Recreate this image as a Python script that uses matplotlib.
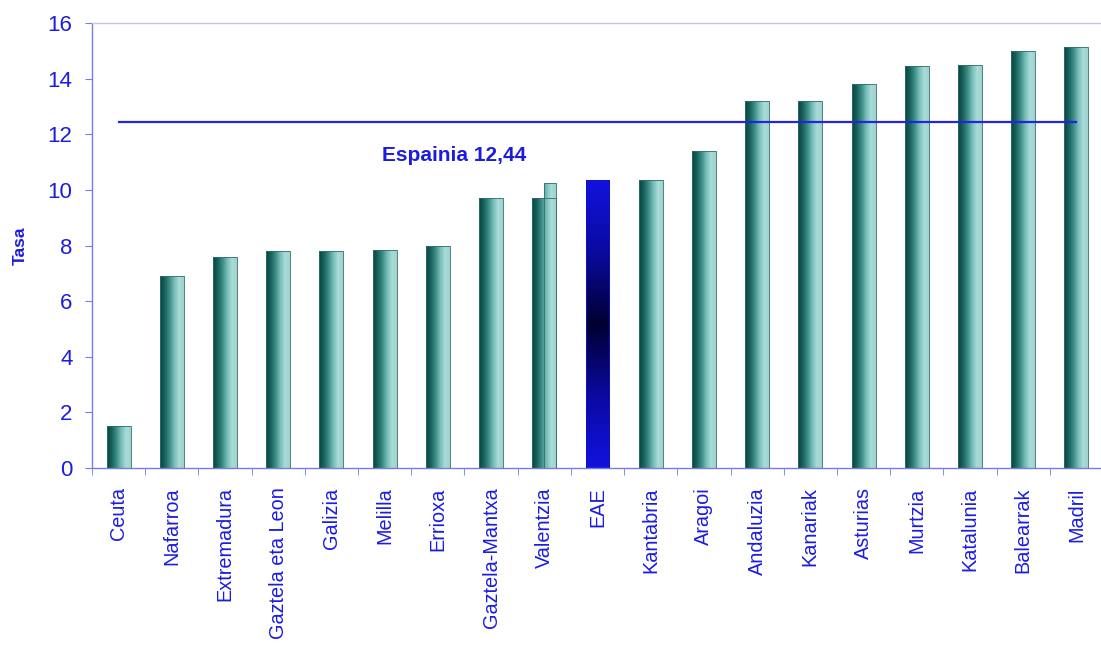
import numpy as np
import matplotlib
matplotlib.use("Agg")
import matplotlib.pyplot as plt
from matplotlib.colors import LinearSegmentedColormap

categories = ["Ceuta", "Nafarroa", "Extremadura", "Gaztela eta Leon", "Galizia",
              "Melilla", "Errioxa", "Gaztela-Mantxa", "Valentzia", "EAE",
              "Kantabria", "Aragoi", "Andaluzia", "Kanariak", "Asturias",
              "Murtzia", "Katalunia", "Balearrak", "Madril"]
values = [1.5, 6.9, 7.6, 7.8, 7.8, 7.85, 8.0, 9.7, 9.7, 10.35,
          10.35, 11.4, 13.2, 13.2, 13.8, 14.45, 14.5, 15.0, 15.15]
valentzia_step = 10.25
spain_value = 12.44
spain_label = "Espainia 12,44"
highlight = "EAE"
y_ticks = [0, 2, 4, 6, 8, 10, 12, 14, 16]

BLUE = "#1c1ce0"
SPINE = "#7a7ae6"
FONT = "Liberation Sans"
teal_cmap = LinearSegmentedColormap.from_list(
    "teal", ["#07433f", "#17615c", "#3d8d87", "#78bdb8", "#a9dcd8", "#9fd3cf"])
blue_cmap = LinearSegmentedColormap.from_list(
    "blueg", ["#1212e0", "#0a0aa0", "#000030", "#0a0aa0", "#1212e0"])

fig = plt.figure(figsize=(11.01, 6.46), dpi=100)
ax = fig.add_axes([92 / 1101, 178 / 646, 1011 / 1101, 445 / 646])

x = np.arange(len(categories))
width = 0.45
bars = ax.bar(x, values, width=width, color="none", edgecolor="none", zorder=2)

hgrad = np.linspace(0, 1, 256).reshape(1, -1)
vgrad = np.linspace(0, 1, 256).reshape(-1, 1)

def fill_bar(patch, x0, x1, y1, full_x0, full_x1, cat):
    if cat == highlight:
        im = ax.imshow(vgrad, cmap=blue_cmap, aspect="auto",
                       extent=(x0, x1, 0, y1), origin="lower", zorder=2)
    else:
        im = ax.imshow(hgrad, cmap=teal_cmap, aspect="auto",
                       extent=(full_x0, full_x1, 0, y1), origin="lower", zorder=2)
    im.set_clip_path(patch)
    border = plt.Rectangle((x0, 0), x1 - x0, y1, fill=False,
                           edgecolor="#2f6f6a" if cat != highlight else "#1010d0",
                           linewidth=0.6, zorder=3)
    ax.add_patch(border)

for b, cat in zip(bars, categories):
    bx0 = b.get_x()
    bx1 = bx0 + b.get_width()
    fill_bar(b, bx0, bx1, b.get_height(), bx0, bx1, cat)

# Valentzia stepped part
vi = categories.index("Valentzia")
step = ax.bar(vi + width / 4, valentzia_step, width=width / 2,
              color="none", edgecolor="none", zorder=2)[0]
fill_bar(step, step.get_x(), step.get_x() + step.get_width(),
         valentzia_step, vi - width / 2, vi + width / 2, "Valentzia")

# Spain reference line
ax.plot([x[0], x[-1]], [spain_value, spain_value], color="#2525e0",
        linewidth=1.6, zorder=4)
ax.text(6.3, 11.25, spain_label, color=BLUE, fontsize=15,
        fontweight="bold", ha="center", va="center", family=FONT)

ax.set_xlim(-0.5, len(categories) - 0.5)
ax.set_ylim(0, 16)
ax.set_yticks(y_ticks)
ax.set_yticklabels([str(t) for t in y_ticks], color=BLUE, fontsize=16,
                   family=FONT)
ax.set_xticks(x)
ax.set_xticklabels(categories, rotation=90, color=BLUE, fontsize=14.3,
                   family=FONT)
ax.set_xticks(np.arange(-0.5, len(categories)), minor=True)
ax.tick_params(axis="x", which="major", length=0, pad=14)
ax.tick_params(axis="x", which="minor", length=5, color=SPINE, direction="out")
ax.tick_params(axis="y", length=5, color=SPINE, direction="out", pad=9)
ax.set_ylabel("Tasa", color=BLUE, fontsize=12.5, fontweight="bold",
              family=FONT, labelpad=14)

for s in ["left", "bottom"]:
    ax.spines[s].set_color(SPINE)
    ax.spines[s].set_linewidth(1.0)
ax.spines["top"].set_color("#c4c4f2")
ax.spines["top"].set_linewidth(1.0)
ax.spines["right"].set_visible(False)
ax.set_facecolor("white")

fig.savefig("out.png", dpi=100)
